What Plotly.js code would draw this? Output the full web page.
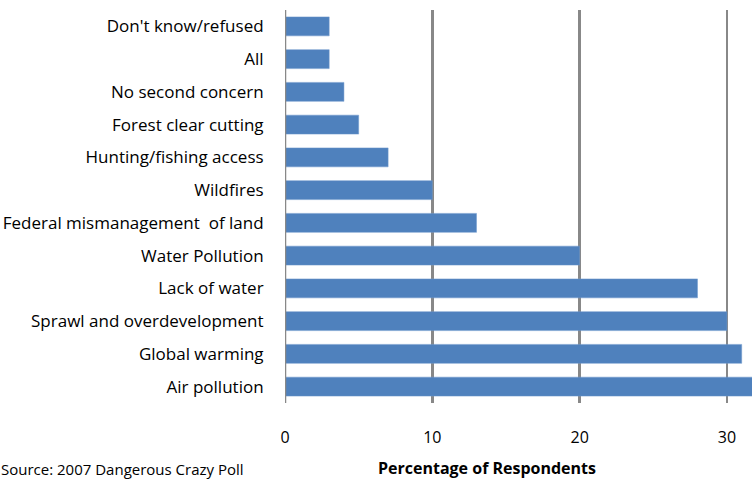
<!DOCTYPE html>
<html>
<head>
<meta charset="utf-8">
<script src="https://cdn.plot.ly/plotly-3.0.1.min.js"></script>
<style>html,body{margin:0;padding:0;background:#fff;}#chart{width:752px;height:481px;}</style>
</head>
<body>
<div id="chart"></div>
<script>
const categories = ["Don't know/refused", "All", "No second concern", "Forest clear cutting", "Hunting/fishing access", "Wildfires", "Federal mismanagement  of land", "Water Pollution", "Lack of water", "Sprawl and overdevelopment", "Global warming", "Air pollution"];
const values = [3, 3, 4, 5, 7, 10, 13, 20, 28, 30, 31, 33];
const xTickVals = [0, 10, 20, 30];
const xTickText = ["0", "10", "20", "30"];
const xTitle = "Percentage of Respondents";
const sourceText = "Source: 2007 Dangerous Crazy Poll";

const font = "Open Sans, Liberation Sans, Arial, sans-serif";
Plotly.newPlot("chart", [{
  type: "bar",
  orientation: "h",
  y: categories,
  x: values,
  marker: {color: "#4F81BD", line: {color: "#6E98CC", width: 0.5}},
  hoverinfo: "x+y"
}], {
  width: 752, height: 481,
  margin: {l: 285, r: 0, t: 10, b: 78, pad: 0},
  paper_bgcolor: "#fff", plot_bgcolor: "#fff",
  bargap: 0.42,
  showlegend: false,
  font: {family: font, size: 15, color: "#000"},
  xaxis: {
    range: [0, 31.7],
    tickvals: xTickVals, ticktext: xTickText,
    showgrid: true, gridcolor: "#888888", gridwidth: 2.5,
    zeroline: false,
    showline: false,
    ticks: "outside", ticklen: 20, tickcolor: "rgba(0,0,0,0)",
    tickfont: {family: font, size: 16, color: "#000"},
    fixedrange: true
  },
  yaxis: {
    autorange: "reversed",
    showgrid: false, zeroline: false,
    showline: false,
    ticks: "outside", ticklen: 17, tickcolor: "rgba(0,0,0,0)",
    tickfont: {family: font, size: 17, color: "#000"},
    fixedrange: true
  },
  shapes: [{
    type: "line", xref: "x", yref: "paper", x0: 0, x1: 0, y0: 0, y1: 1,
    line: {color: "#888888", width: 2.5}
  }],
  annotations: [{
    text: "<b>" + xTitle + "</b>", xref: "paper", yref: "paper",
    x: (487 - 285) / (752 - 285), y: -0.166, xanchor: "center", yanchor: "middle",
    borderpad: 0,
    showarrow: false, font: {family: font, size: 16, color: "#000"}
  }, {
    text: sourceText, xref: "paper", yref: "paper",
    x: -285 / 467, y: -0.168, xanchor: "left", yanchor: "middle",
    borderpad: 0,
    showarrow: false, font: {family: font, size: 15, color: "#000"}
  }]
}, {displayModeBar: false, staticPlot: true});
</script>
</body>
</html>
